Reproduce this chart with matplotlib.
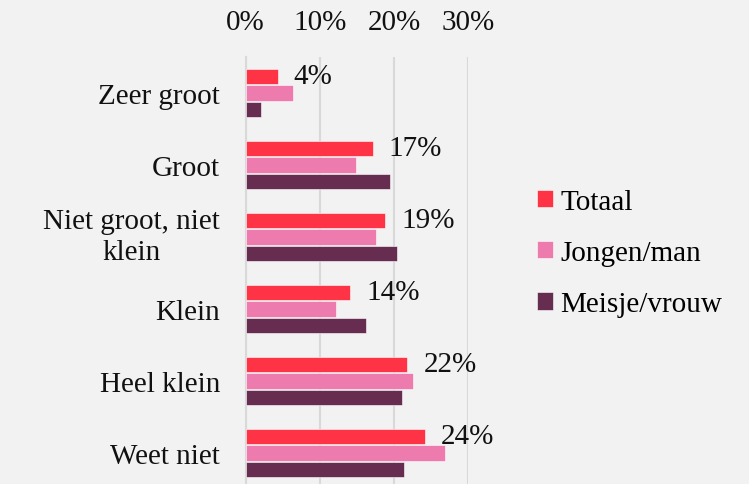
import matplotlib.pyplot as plt
import numpy as np

categories = ['Zeer groot', 'Groot', 'Niet groot, niet\nklein', 'Klein', 'Heel klein', 'Weet niet']
series_names = ['Totaal', 'Jongen/man', 'Meisje/vrouw']
totaal = [4.3, 17.1, 18.8, 14.1, 21.8, 24.2]
jongen = [6.4, 14.9, 17.5, 12.2, 22.6, 26.8]
meisje = [2.0, 19.5, 20.4, 16.2, 21.0, 21.4]
x_ticks = [0, 10, 20, 30]
x_tick_labels = ['0%', '10%', '20%', '30%']

colors = ['#FF3346', '#EE7BAE', '#662D50']
bg = '#F2F2F2'
grid_col = '#D9D9D9'
fs = 21

plt.rcParams['font.family'] = ['Liberation Serif', 'DejaVu Serif']

fig = plt.figure(figsize=(7.49, 4.85), dpi=100, facecolor=bg)
W, H = 749, 485
left, right, top, bottom = 245.7, 468.3, 58, 490
ax = fig.add_axes([left / W, 1 - bottom / H, (right - left) / W, (bottom - top) / H])
ax.set_facecolor(bg)

y = np.arange(len(categories))
step = 0.23
h = 0.215
for i, (vals, name) in enumerate(zip([totaal, jongen, meisje], series_names)):
    ax.barh(y + (i - 1) * step, vals, height=h, color=colors[i], label=name,
            edgecolor='#FFFFFF', linewidth=0.4, zorder=3)

for yi, v in zip(y, totaal):
    ax.annotate(f'{round(v)}%', xy=(v, yi - step), xytext=(11.5, 0),
                textcoords='offset points', ha='left', va='center',
                fontsize=fs, color='#111111', zorder=4)

ax.set_xlim(0, 30)
ax.set_ylim(len(categories) - 0.5, -0.5)
ax.set_xticks(x_ticks)
ax.set_xticklabels(x_tick_labels, fontsize=fs, color='#111111')
ax.xaxis.tick_top()
ax.tick_params(axis='x', length=0, pad=16)
ax.set_yticks(y)
ax.set_yticklabels(categories, fontsize=fs, color='#111111')
for t in ax.get_yticklabels():
    t.set_multialignment('center')
    t.set_linespacing(1.25)
    if '\n' in t.get_text():
        t.set_verticalalignment('center')
ax.tick_params(axis='y', length=0, pad=18.5)

ax.grid(axis='x', color=grid_col, linewidth=1.5, zorder=0)
for s in ['top', 'right', 'bottom']:
    ax.spines[s].set_visible(False)
ax.spines['left'].set_color(grid_col)
ax.spines['left'].set_linewidth(1.5)
ax.spines['left'].set_zorder(2)

ax.legend(loc='center left', bbox_to_anchor=(537 / W, 1 - 254 / H),
          bbox_transform=fig.transFigure, frameon=False, fontsize=fs,
          handlelength=0.55, handleheight=0.55, handletextpad=0.25,
          labelspacing=0.86, borderaxespad=0, borderpad=0)

fig.savefig('out.png', dpi=100, facecolor=bg)
